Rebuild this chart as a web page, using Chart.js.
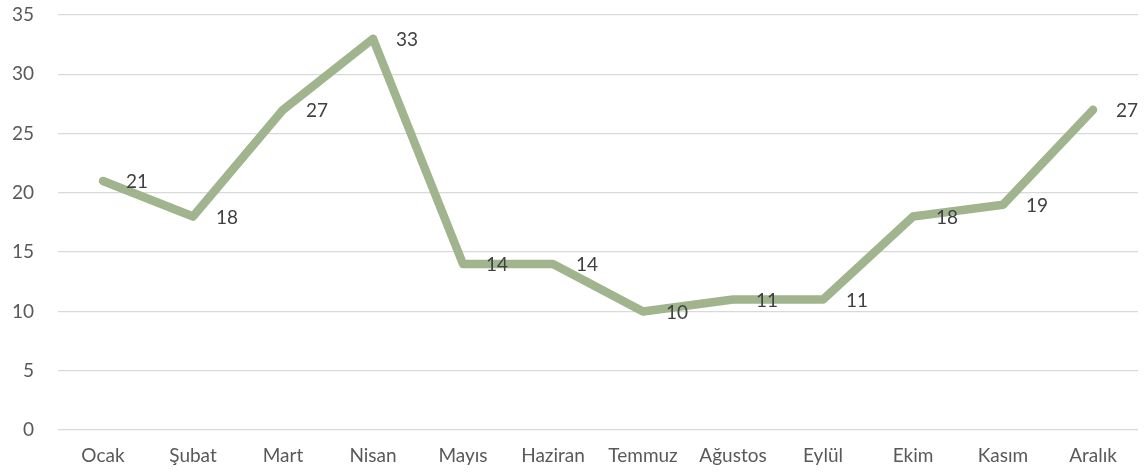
<!DOCTYPE html>
<html>
<head>
<meta charset="utf-8">
<script src="https://cdn.jsdelivr.net/npm/chart.js@4"></script>
<style>
html,body{margin:0;padding:0;background:#fff;}
#wrap{width:1148px;height:476px;position:relative;}
</style>
</head>
<body>
<div id="wrap"><canvas id="c" width="1148" height="476"></canvas></div>
<script>
const categories = ["Ocak","Şubat","Mart","Nisan","Mayıs","Haziran","Temmuz","Ağustos","Eylül","Ekim","Kasım","Aralık"];
const values = [21,18,27,33,14,14,10,11,11,18,19,27];
const yTicks = [0,5,10,15,20,25,30,35];

const FONT = "Lato, 'Open Sans', sans-serif";

const labelPlugin = {
  id: 'rightLabels',
  afterDatasetsDraw(chart) {
    const ctx = chart.ctx;
    const meta = chart.getDatasetMeta(0);
    ctx.save();
    ctx.font = "19px " + FONT;
    ctx.fillStyle = "#404040";
    ctx.textAlign = "left";
    ctx.textBaseline = "middle";
    meta.data.forEach((pt, i) => {
      ctx.fillText(String(values[i]), pt.x + 23, pt.y + 1);
    });
    ctx.restore();
  }
};

new Chart(document.getElementById('c'), {
  type: 'line',
  data: {
    labels: categories,
    datasets: [{
      data: values,
      borderColor: '#a0b48e',
      borderWidth: 8.5,
      borderCapStyle: 'round',
      borderJoinStyle: 'round',
      pointRadius: 0,
      tension: 0,
      fill: false
    }]
  },
  options: {
    responsive: false,
    animation: false,
    events: [],
    layout: { padding: { top: 15, right: 10, left: 0, bottom: 0 } },
    plugins: { legend: { display: false }, tooltip: { enabled: false } },
    scales: {
      x: {
        offset: true,
        grid: { display: false, drawTicks: false },
        border: { display: false },
        ticks: { color: '#595959', font: { family: FONT, size: 19 }, padding: 14, maxRotation: 0, autoSkip: false },
        afterFit(s) { s.height = 46; s.paddingLeft = 0; s.paddingRight = 0; }
      },
      y: {
        min: 0, max: 35,
        afterBuildTicks(s) { s.ticks = yTicks.map(v => ({ value: v })); },
        grid: { color: '#d9d9d9', lineWidth: 1.3, drawTicks: false },
        border: { display: false },
        ticks: { color: '#595959', font: { family: FONT, size: 19 }, padding: 24 },
        afterFit(s) { s.width = 58; s.paddingTop = 0; s.paddingBottom = 0; }
      }
    }
  },
  plugins: [labelPlugin]
});
</script>
</body>
</html>
